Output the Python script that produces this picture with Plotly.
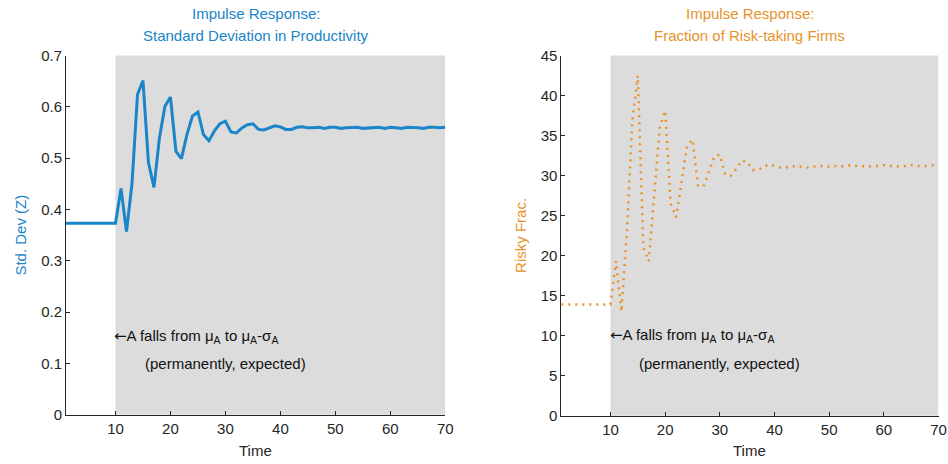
import plotly.graph_objects as go

# ---- data ----
time = list(range(1, 71))

std_dev = [0.373] * 10 + [
    0.441, 0.357, 0.450, 0.624, 0.651, 0.491, 0.443, 0.540, 0.601, 0.619,   # 11-20
    0.513, 0.499, 0.546, 0.582, 0.590, 0.546, 0.534, 0.553, 0.567, 0.572,   # 21-30
    0.551, 0.549, 0.559, 0.565, 0.567, 0.556, 0.555, 0.559, 0.563, 0.561,   # 31-40
    0.556, 0.556, 0.560, 0.561, 0.559, 0.559, 0.560, 0.558, 0.560, 0.560,   # 41-50
    0.558, 0.559, 0.560, 0.560, 0.558, 0.559, 0.560, 0.560, 0.558, 0.560,   # 51-60
    0.559, 0.558, 0.560, 0.560, 0.559, 0.558, 0.560, 0.560, 0.559, 0.560,   # 61-70
]

risky_frac = [13.9] * 10 + [
    19.3, 13.0, 23.0, 37.0, 42.5, 21.0, 19.3, 27.6, 36.0, 38.1,   # 11-20
    26.5, 24.8, 29.3, 33.7, 34.5, 28.8, 28.6, 30.6, 32.4, 32.6,   # 21-30
    30.1, 30.0, 30.8, 31.9, 31.7, 30.7, 30.7, 31.1, 31.4, 31.2,   # 31-40
    31.0, 31.0, 31.1, 31.2, 31.1, 31.0, 31.1, 31.2, 31.2, 31.1,   # 41-50
    31.2, 31.1, 31.2, 31.3, 31.2, 31.2, 31.1, 31.2, 31.2, 31.3,   # 51-60
    31.2, 31.2, 31.1, 31.2, 31.3, 31.2, 31.2, 31.2, 31.3, 31.2,   # 61-70
]

shock_start = 10
shock_end = 70
x_ticks = [10, 20, 30, 40, 50, 60, 70]

BLUE = "#1a85c8"
ORANGE = "#e8922a"
AXIS = "#262626"
SHADE = "#dcdcdc"
FONT = "Liberation Sans, Arial, sans-serif"

W, H = 948, 464


def px_x(x):
    return (x / 0.991) / W


def px_y(y):
    return 1 - ((y - 7.5) / 0.963) / H


fig = go.Figure()

fig.add_trace(go.Scatter(x=time, y=std_dev, mode="lines",
                         line=dict(color=BLUE, width=3), xaxis="x", yaxis="y",
                         showlegend=False))
fig.add_trace(go.Scatter(x=time, y=risky_frac, mode="lines",
                         line=dict(color=ORANGE, width=2.5, dash="2px,5px"),
                         xaxis="x2", yaxis="y2", showlegend=False))

# shaded post-shock region
for xr, yr in (("x", "y domain"), ("x2", "y2 domain")):
    fig.add_shape(type="rect", xref=xr, yref=yr, x0=shock_start, x1=shock_end,
                  y0=0, y1=1, fillcolor=SHADE, line=dict(width=0), layer="below")

axis_common = dict(showline=True, linecolor=AXIS, linewidth=1, mirror=False,
                   ticks="inside", ticklen=4, tickcolor=AXIS, showgrid=False,
                   zeroline=False, tickfont=dict(family=FONT, size=15, color=AXIS))

xd1 = [px_x(66), px_x(445)]
xd2 = [px_x(561), px_x(938)]
yd1 = [px_y(413), px_y(54)]
yd2 = [px_y(414), px_y(54)]

fig.update_layout(
    width=W, height=H,
    margin=dict(l=0, r=0, t=0, b=0),
    paper_bgcolor="white", plot_bgcolor="white",
    hovermode=False,
    font=dict(family=FONT, size=15, color=AXIS),
    xaxis=dict(domain=xd1, range=[1, 70], tickvals=x_ticks, anchor="y", **axis_common),
    yaxis=dict(domain=yd1, range=[0, 0.7], dtick=0.1, anchor="x", **axis_common),
    xaxis2=dict(domain=xd2, range=[1, 70], tickvals=x_ticks, anchor="y2", **axis_common),
    yaxis2=dict(domain=yd2, range=[0, 45], dtick=5, anchor="x2", **axis_common),
)


def cx(d):
    return (d[0] + d[1]) / 2


ann = []
# titles
for d, col, l1, l2 in ((xd1, BLUE, "Impulse Response:", "Standard Deviation in Productivity"),
                       (xd2, ORANGE, "Impulse Response:", "Fraction of Risk-taking Firms")):
    ann.append(dict(x=cx(d), y=px_y(12), xref="paper", yref="paper", text=l1,
                    showarrow=False, font=dict(size=15, color=col), xanchor="center", yanchor="middle"))
    ann.append(dict(x=cx(d), y=px_y(34), xref="paper", yref="paper", text=l2,
                    showarrow=False, font=dict(size=15, color=col), xanchor="center", yanchor="middle"))
    ann.append(dict(x=cx(d), y=px_y(449), xref="paper", yref="paper", text="Time",
                    showarrow=False, font=dict(size=15, color=AXIS), xanchor="center", yanchor="middle"))

# y axis titles
ann.append(dict(x=px_x(21), y=px_y(234), xref="paper", yref="paper", text="Std. Dev (Z)",
                textangle=-90, showarrow=False, font=dict(size=15, color=BLUE),
                xanchor="center", yanchor="middle"))
ann.append(dict(x=px_x(520), y=px_y(234), xref="paper", yref="paper", text="Risky Frac.",
                textangle=-90, showarrow=False, font=dict(size=15, color=ORANGE),
                xanchor="center", yanchor="middle"))

# shock notes
note1 = ("<span style=\"font-family:DejaVu Sans\">\u2190</span>"
         "A falls from \u03bc<sub>A</sub> to \u03bc<sub>A</sub>-\u03c3<sub>A</sub>")
note2 = "(permanently, expected)"
for xr, yr, y1, y2 in (("x", "y", 0.152, 0.099), ("x2", "y2", 10.0, 6.5)):
    ann.append(dict(x=shock_start, y=y1, xref=xr, yref=yr, text=note1, showarrow=False,
                    xanchor="left", yanchor="middle", xshift=-3,
                    font=dict(size=15, color="#111111")))
    ann.append(dict(x=30, y=y2, xref=xr, yref=yr, text=note2, showarrow=False,
                    xanchor="center", yanchor="middle",
                    font=dict(size=15, color="#111111")))

fig.update_layout(annotations=ann)

post = ("document.documentElement.style.margin='0px';"
        "document.body.style.margin='0px';"
        "document.body.style.overflow='hidden';"
        "var gd=document.getElementById('{plot_id}');"
        "gd.style.position='fixed';gd.style.top='0px';gd.style.left='0px';")
fig.write_html("out.html", post_script=post,
               config={"displayModeBar": False})
